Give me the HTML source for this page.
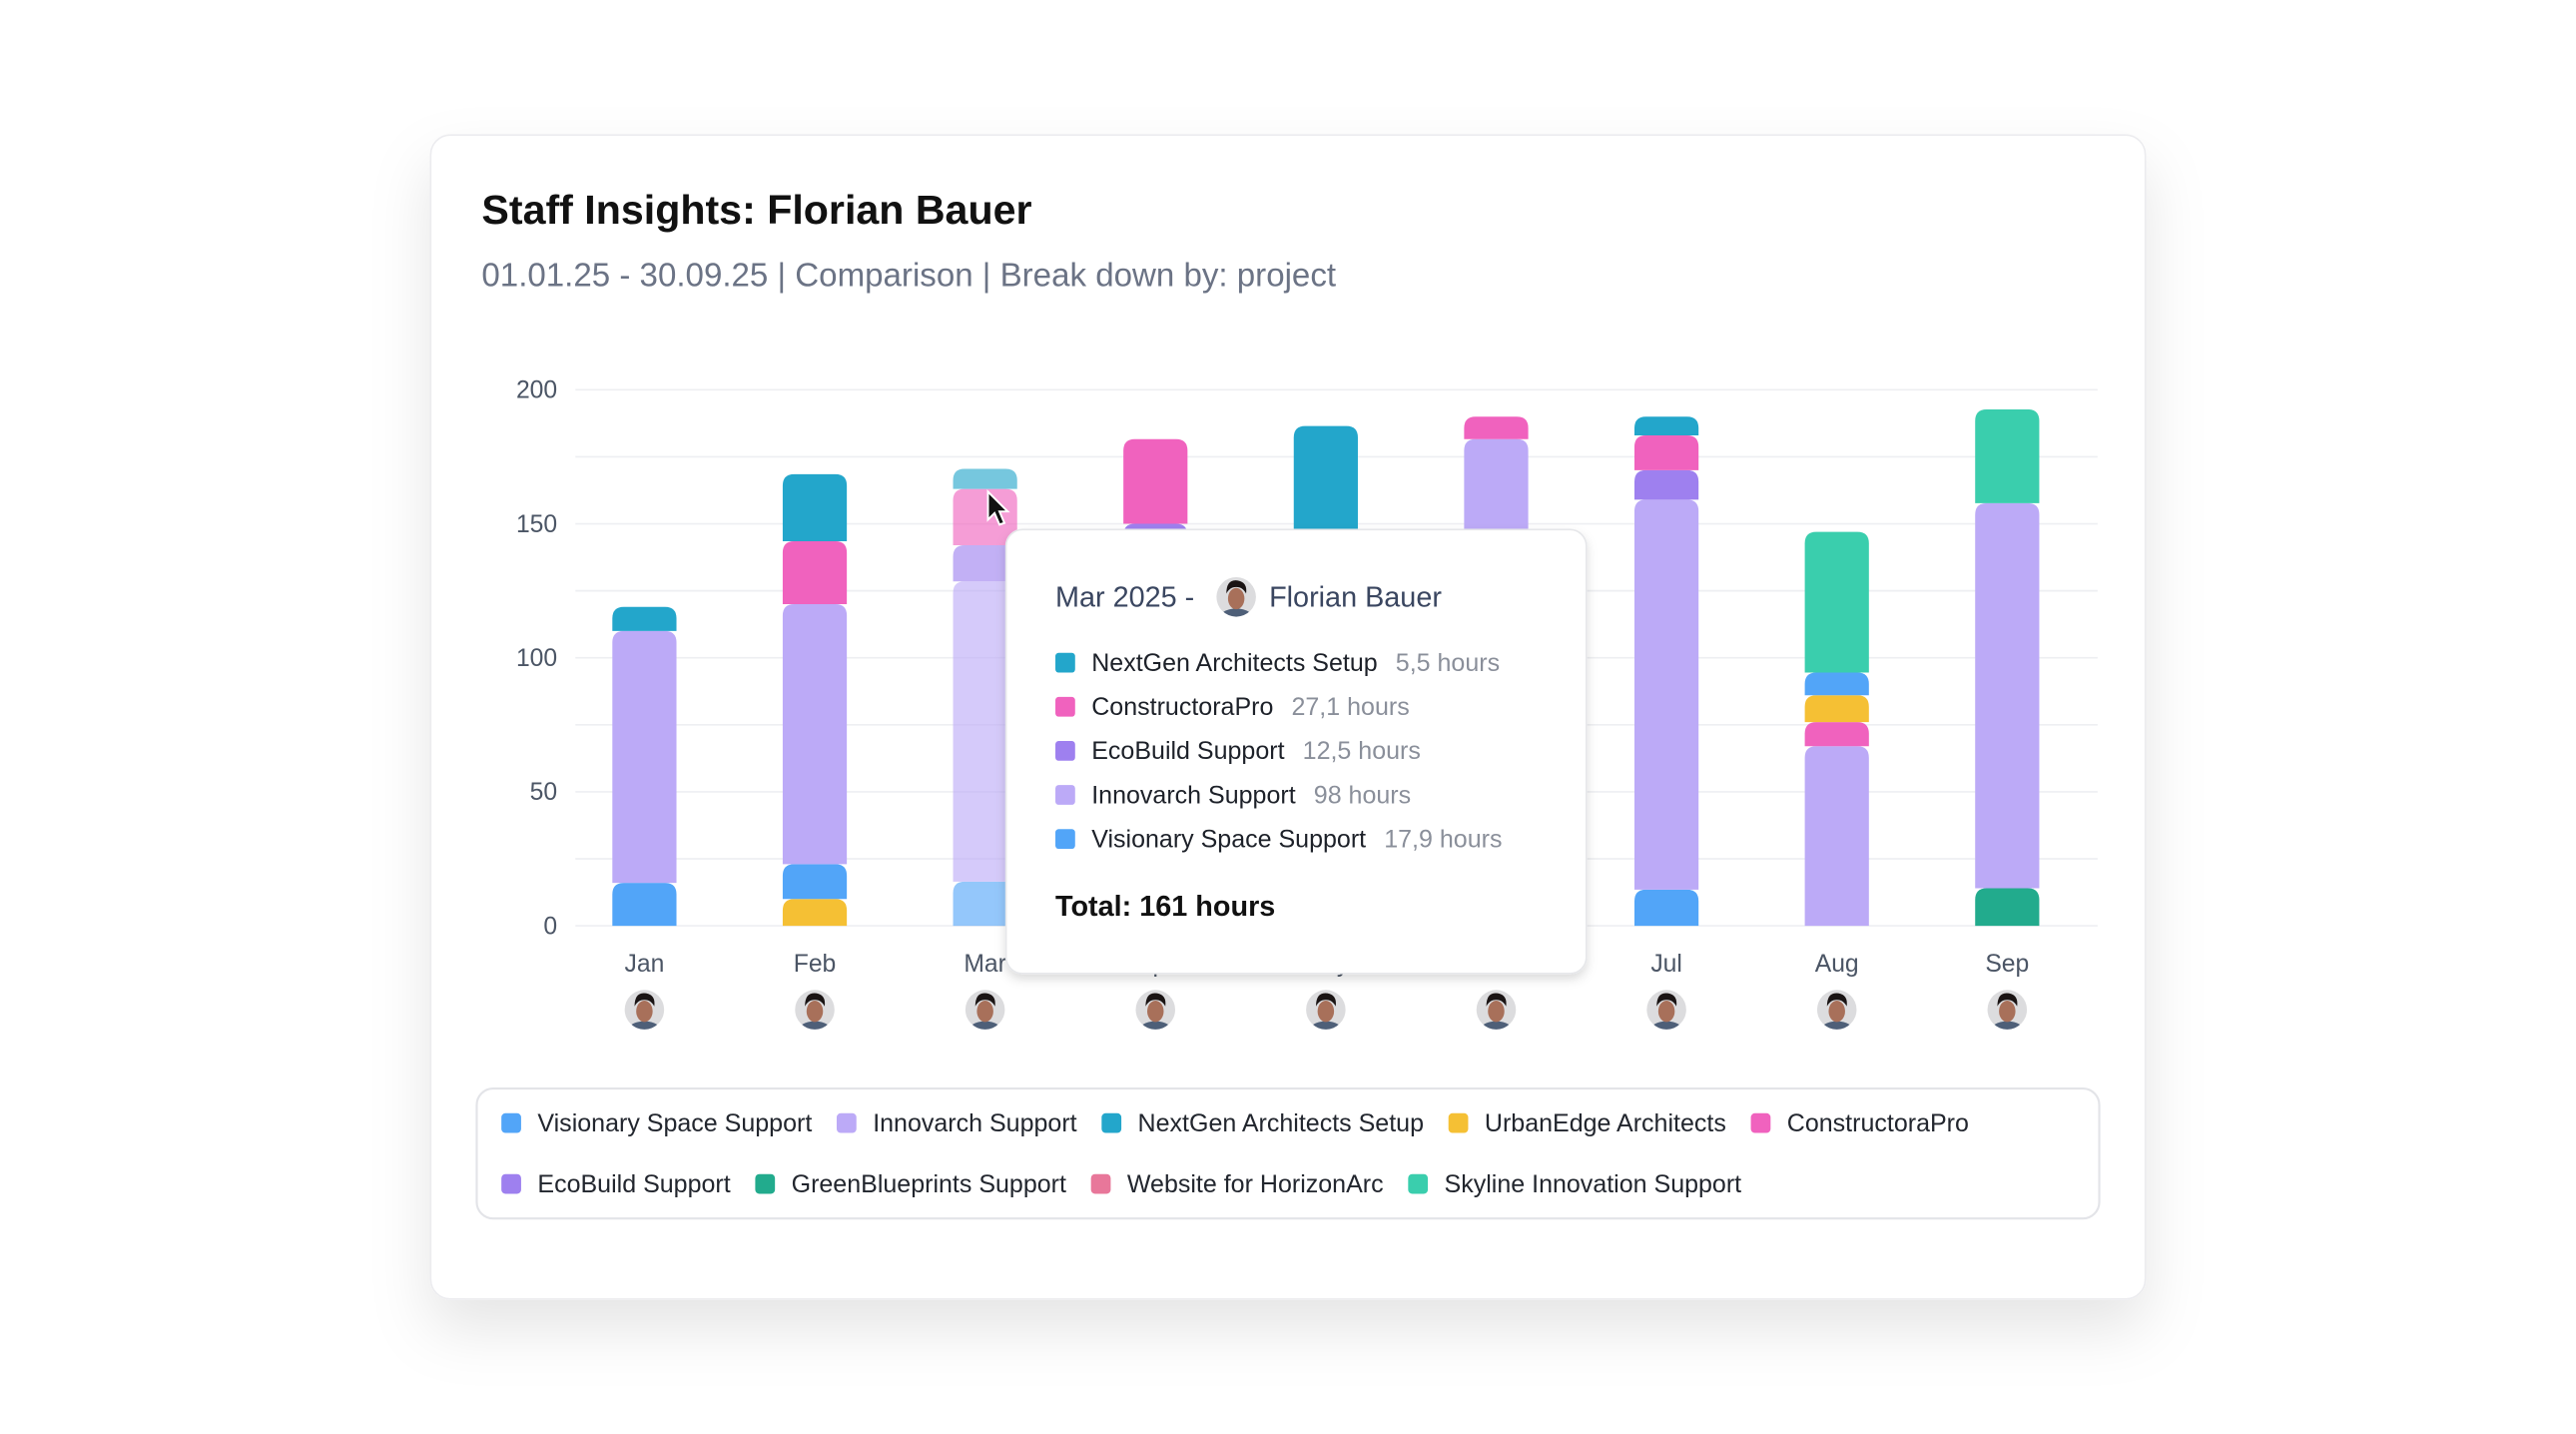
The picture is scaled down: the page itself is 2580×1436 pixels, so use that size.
<!DOCTYPE html>
<html><head><meta charset="utf-8">
<style>
html,body{margin:0;padding:0;background:#fff;}
body{width:2580px;height:1436px;overflow:hidden;}
svg{display:block;font-family:"Liberation Sans",sans-serif;}
</style></head>
<body>
<svg id="chart" width="2580" height="1436" viewBox="0 0 1567 872" xmlns="http://www.w3.org/2000/svg">
<defs>
<filter id="cardShadow" x="-20%" y="-20%" width="140%" height="150%"><feDropShadow dx="0" dy="18" stdDeviation="18" flood-color="#000" flood-opacity="0.10"/></filter>
<filter id="tipShadow" x="-20%" y="-20%" width="140%" height="140%"><feDropShadow dx="0" dy="3" stdDeviation="3" flood-color="#000" flood-opacity="0.14"/></filter>
<clipPath id="avClip"><circle cx="0" cy="0" r="12"/></clipPath>
</defs>
<rect x="262" y="82" width="1043" height="708" rx="12" fill="#fff" stroke="#ececef" filter="url(#cardShadow)"/>
<text x="293" y="136" font-size="25" font-weight="bold" fill="#111">Staff Insights: Florian Bauer</text>
<text x="293" y="174" font-size="20.1" fill="#6b7385">01.01.25 - 30.09.25 | Comparison | Break down by: project</text>
<g id="grid"></g>
<g id="bars"></g>
<g id="xaxis"></g>
<g id="legend"></g>
<g id="tooltip"></g>
<path d="M601 299 L601 316 L605 312 L608 319 L611 318 L608 311 L613 311 Z" fill="#111" stroke="#fff" stroke-width="1.2"/>
</svg>
<script>
const months = ["Jan","Feb","Mar","Apr","May","Jun","Jul","Aug","Sep"];
const seriesNames = ["Visionary Space Support","Innovarch Support","NextGen Architects Setup","UrbanEdge Architects","ConstructoraPro","EcoBuild Support","GreenBlueprints Support","Website for HorizonArc","Skyline Innovation Support"];
const seriesColors = ["#52a5f8","#bcaaf7","#23a6cb","#f5c034","#f062be","#9e80ef","#22ab8d","#e8779a","#3acead"];
const stackOrder = ["GreenBlueprints Support","UrbanEdge Architects","Visionary Space Support","Innovarch Support","EcoBuild Support","ConstructoraPro","NextGen Architects Setup","Skyline Innovation Support"];
const stackOrderAug = ["Innovarch Support","ConstructoraPro","UrbanEdge Architects","Visionary Space Support","Skyline Innovation Support"];
const valVisionary = [16,13,16.5,15,15,15,13.5,8.5,0];
const valInnovarch = [94,97,112,130,130,166.6,145.5,67,143.7];
const valNextGen = [9,25,7.5,0,41.5,0,7,0,0];
const valUrbanEdge = [0,10,0,0,0,0,0,10,0];
const valConstructora = [0,23.5,21,31.6,0,8.4,13,9,0];
const valEcoBuild = [0,0,13.5,5,0,0,11,0,0];
const valGreen = [0,0,0,0,0,0,0,0,14];
const valSkyline = [0,0,0,0,0,0,0,52.5,35];
const yTicks = [0,50,100,150,200];
const gridTicks = [0,25,50,75,100,125,150,175,200];
const highlightMonth = "Mar";
const tipTitle = "Mar 2025 -";
const tipName = "Florian Bauer";
const tipNames = ["NextGen Architects Setup","ConstructoraPro","EcoBuild Support","Innovarch Support","Visionary Space Support"];
const tipValues = ["5,5 hours","27,1 hours","12,5 hours","98 hours","17,9 hours"];
const tipTotal = "Total: 161 hours";

const NS="http://www.w3.org/2000/svg";
function mk(tag,attrs,parent){const e=document.createElementNS(NS,tag);for(const k in attrs)e.setAttribute(k,attrs[k]);parent.appendChild(e);return e;}
const values={"Visionary Space Support":valVisionary,"Innovarch Support":valInnovarch,"NextGen Architects Setup":valNextGen,"UrbanEdge Architects":valUrbanEdge,"ConstructoraPro":valConstructora,"EcoBuild Support":valEcoBuild,"GreenBlueprints Support":valGreen,"Skyline Innovation Support":valSkyline};
const colorOf=n=>seriesColors[seriesNames.indexOf(n)];
const y0=563,y1=237,xL=350,xR=1276;
const yScale=v=>y0-(v/200)*(y0-y1);
const xScale=i=>392+i*(1221-392)/(months.length-1);
const bw=39;

const grid=document.getElementById('grid');
gridTicks.forEach(t=>{
  const l=mk('line',{x1:xL,x2:xR,y1:yScale(t),y2:yScale(t),stroke:'#eeeff2','stroke-width':1},grid);
  
  
});
yTicks.forEach(t=>{
  const tx=mk('text',{x:339,y:yScale(t)+5,'text-anchor':'end','font-size':15,fill:'#4b5565'},grid);
  tx.textContent=t;
  
  
});

const bars=document.getElementById('bars');
months.forEach((m,i)=>{
  let acc=0;const cx=xScale(i);
  const g=mk('g',{opacity:m===highlightMonth?0.62:1},bars);
  
  
  const order=m==="Aug"?stackOrderAug:stackOrder;
  order.forEach(n=>{
    const v=values[n][i];if(!v)return;
    const top=yScale(acc+v),bot=yScale(acc);acc+=v;
    const r=Math.min(7,(bot-top));const x=cx-bw/2,w=bw;
    const d=`M${x} ${bot}L${x} ${top+r}Q${x} ${top} ${x+r} ${top}L${x+w-r} ${top}Q${x+w} ${top} ${x+w} ${top+r}L${x+w} ${bot}Z`;
    const p=mk('path',{d:d,fill:colorOf(n)},g);
    
    
  });
});

const xa=document.getElementById('xaxis');
months.forEach((m,i)=>{
  const cx=xScale(i);
  const t=mk('text',{x:cx,y:591,'text-anchor':'middle','font-size':15,fill:'#4b5565'},xa);
  t.textContent=m;
  
  
  const av=mk('g',{transform:`translate(${cx},614)`},xa);
  
  
  mk('circle',{cx:0,cy:0,r:12,fill:'#dcdcde'},av);
  const ig=mk('g',{'clip-path':'url(#avClip)'},av);
  mk('ellipse',{cx:0,cy:14,rx:11,ry:7,fill:'#4e5f78'},ig);
  mk('ellipse',{cx:0,cy:1,rx:5,ry:6.5,fill:'#a8705a'},ig);
  mk('path',{d:'M-6 -2 Q-6 -11 1 -10 Q7 -9 6 -2 Q4 -6 0 -6 Q-4 -6 -6 -2Z',fill:'#1a1414'},ig);
});

const lg=document.getElementById('legend');
const box=mk('rect',{x:290,y:662,width:987,height:79,rx:10,fill:'#fff',stroke:'#e3e4e8','stroke-width':1.3},lg);


const rowBreak=5;
let lx=305;
seriesNames.forEach((n,k)=>{
  if(k===rowBreak)lx=305;
  const ly=k<rowBreak?683:720;
  const g=mk('g',{},lg);
  
  
  mk('rect',{x:lx,y:ly-6,width:12,height:12,rx:2.5,fill:seriesColors[k]},g);
  const t=mk('text',{x:lx+22,y:ly+5,'font-size':15.2,fill:'#22262e'},g);
  t.textContent=n;
  const w=t.getComputedTextLength();
  lx+=22+w+15;
});

const tp=document.getElementById('tooltip');
const tg=mk('g',{},tp);


mk('rect',{x:612,y:322,width:353,height:270,rx:10,fill:'#fff',stroke:'#e6e7ea',filter:'url(#tipShadow)'},tg);
const tt=mk('text',{x:642,y:369,'font-size':17.5,fill:'#3a4660'},tg);tt.textContent=tipTitle;
const tav=mk('g',{transform:'translate(752,363)'},tg);


mk('circle',{cx:0,cy:0,r:12,fill:'#dcdcde'},tav);
const tig=mk('g',{'clip-path':'url(#avClip)'},tav);
mk('ellipse',{cx:0,cy:14,rx:11,ry:7,fill:'#4e5f78'},tig);
mk('ellipse',{cx:0,cy:1,rx:5,ry:6.5,fill:'#a8705a'},tig);
mk('path',{d:'M-6 -2 Q-6 -11 1 -10 Q7 -9 6 -2 Q4 -6 0 -6 Q-4 -6 -6 -2Z',fill:'#1a1414'},tig);
const tn=mk('text',{x:772,y:369,'font-size':17.5,fill:'#3a4660'},tg);tn.textContent=tipName;
tipNames.forEach((n,k)=>{
  const y=403+k*26.8;
  const row=mk('g',{},tg);
  
  
  mk('rect',{x:642,y:y-6,width:12,height:12,rx:2,fill:colorOf(n)},row);
  const a=mk('text',{x:664,y:y+5,'font-size':15.2,fill:'#1d2129'},row);a.textContent=n;
  const b=mk('text',{x:664+a.getComputedTextLength()+11,y:y+5,'font-size':15.2,fill:'#8a8f9a'},row);b.textContent=tipValues[k];
});
const tot=mk('text',{x:642,y:557,'font-size':17.5,'font-weight':'bold',fill:'#111'},tg);
tot.textContent=tipTotal;


</script>
</body></html>
